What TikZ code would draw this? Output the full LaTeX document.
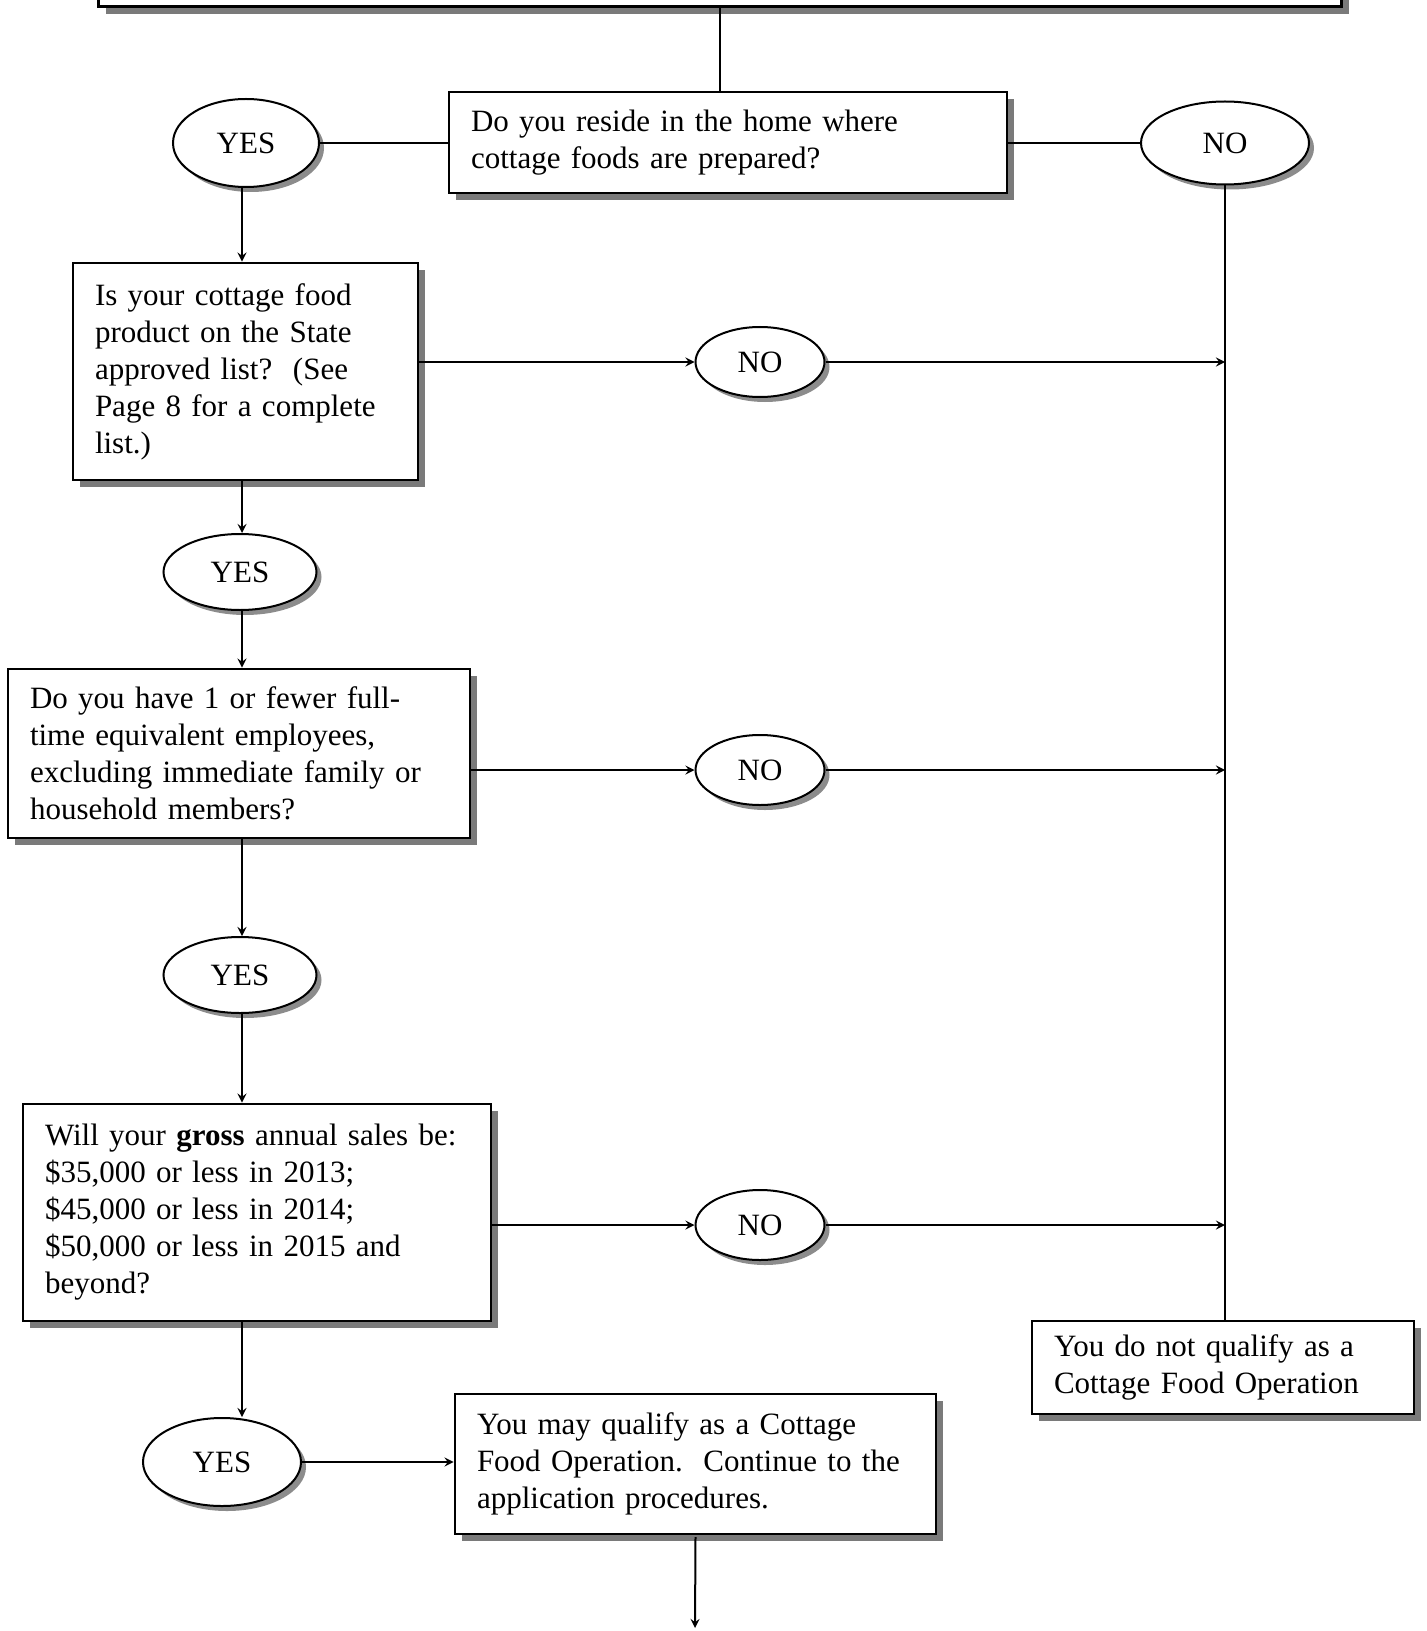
\documentclass[tikz,border=0pt]{standalone}
\usepackage{fontspec}
\setmainfont{Liberation Serif}
\usetikzlibrary{shapes.geometric, shadows, arrows}
\tikzset{
    box/.style={ % question and result boxes
        draw, line width=1.4pt, fill=white,
        align=left, inner xsep=11pt, inner ysep=4pt,
        drop shadow={shadow xshift=3.5pt, shadow yshift=-3.5pt, fill=black!65, opacity=.8},
        font=\fontsize{15.5}{18.5}\selectfont
    },
    answer/.style={ % YES / NO bubbles
        ellipse, draw, line width=1pt, fill=white, inner sep=0pt,
        drop shadow={shadow xshift=2.5pt, shadow yshift=-2.5pt, fill=black!60, opacity=.75},
        font=\fontsize{15.5}{18.5}\selectfont
    },
    link/.style={draw, line width=1pt},
    flow/.style={link, ->, >=stealth} % connectors with a head
}
\begin{document}
\begin{tikzpicture}[x=0.5pt, y=-0.5pt]
    \useasboundingbox (0,0) rectangle (1426,1631);
    \coordinate (spine) at (242,0); % the YES column
    \coordinate (next) at (695,1628);

    \node[box, minimum width=621.5pt, minimum height=60pt, anchor=south] (top) at (720,8) {};

    \node[box, text width=257pt, minimum height=50.5pt] (q1) at (728,142.5)
        {Do you reside in the home where\\cottage foods are prepared?};
    \node[answer, minimum width=73pt, minimum height=44pt] (y1) at (246,143) {YES};
    \node[answer, minimum width=84pt, minimum height=41.5pt] (n1) at (1225,143) {NO};

    \node[box, text width=150.5pt, minimum height=108.5pt] (q2) at (245.5,371.5)
        {Is your cottage food\\product on the State\\approved list?~~(See\\Page 8 for a complete\\list.)};
    \node[answer, minimum width=64.5pt, minimum height=35pt] (n2) at (760,362) {NO};
    \node[answer, minimum width=76.5pt, minimum height=38pt] (y2) at (240,572) {YES};

    \node[box, text width=209pt, minimum height=84.5pt] (q3) at (239,753.5)
        {Do you have 1 or fewer full-\\time equivalent employees,\\excluding immediate family or\\household members?};
    \node[answer, minimum width=64.5pt, minimum height=35pt] (n3) at (760,770) {NO};
    \node[answer, minimum width=76.5pt, minimum height=38pt] (y3) at (240,975) {YES};

    \node[box, text width=212pt, minimum height=108.5pt] (q4) at (257,1212.5)
        {Will your \textbf{gross} annual sales be:\\\$35,000 or less in 2013;\\\$45,000 or less in 2014;\\\$50,000 or less in 2015 and\\beyond?};
    \node[answer, minimum width=64.5pt, minimum height=35pt] (n4) at (760,1225) {NO};
    \node[answer, minimum width=79pt, minimum height=44pt] (y4) at (222,1462) {YES};

    \node[box, text width=218.5pt, minimum height=70pt] (ok) at (695.5,1464)
        {You may qualify as a Cottage\\Food Operation.~~Continue to the\\application procedures.};
    \node[box, text width=169pt, minimum height=46.5pt] (notok) at (1223,1367.5)
        {You do not qualify as a\\Cottage Food Operation};

    % first question
    \draw[link] (top.south) -- (top.south |- q1.north);
    \draw[link] (y1) -- (y1 -| q1.west);
    \draw[link] (q1.east |- n1) -- (n1);
    \draw[link] (n1) -- (n1 |- notok.north);

    % YES column
    \draw[flow] (y1.south -| spine) -- (q2.north -| spine);
    \draw[flow] (q2.south -| spine) -- (y2.north -| spine);
    \draw[flow] (y2.south -| spine) -- (q3.north -| spine);
    \draw[flow] (q3.south -| spine) -- (y3.north -| spine);
    \draw[flow] (y3.south -| spine) -- (q4.north -| spine);
    \draw[flow] (q4.south -| spine) -- (y4.north -| spine);
    \draw[flow] (y4) -- (y4 -| ok.west);
    \draw[flow] (ok.south |- next) ++(0,-91) -- (next);

    % NO branches
    \draw[flow] (n2 -| q2.east) -- (n2);
    \draw[flow] (n2) -- (n2 -| n1);
    \draw[flow] (n3 -| q3.east) -- (n3);
    \draw[flow] (n3) -- (n3 -| n1);
    \draw[flow] (n4 -| q4.east) -- (n4);
    \draw[flow] (n4) -- (n4 -| n1);
\end{tikzpicture}
\end{document}
